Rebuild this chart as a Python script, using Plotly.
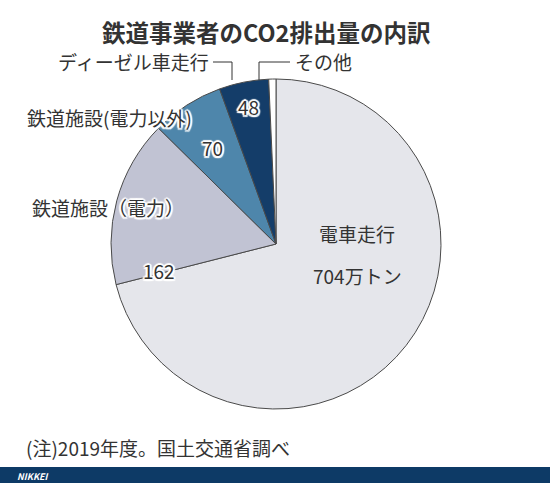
import plotly.graph_objects as go

categories = ["電車走行", "鉄道施設（電力）", "鉄道施設(電力以外)", "ディーゼル車走行", "その他"]
values = [704, 162, 70, 48, 7]
colors = ["#e5e6eb", "#c1c3d3", "#4e86ab", "#143d69", "#ffffff"]

W, H = 550, 483
cx, cy, r = 276, 244, 165

fig = go.Figure(go.Pie(
    labels=categories, values=values, sort=False, direction="clockwise", rotation=0,
    marker=dict(colors=colors, line=dict(color="#4a4a4a", width=1)),
    textinfo="none", hoverinfo="label+value", showlegend=False,
    domain=dict(x=[(cx - r) / W, (cx + r) / W], y=[(H - cy - r) / H, (H - cy + r) / H]),
))

FONT = "Noto Sans CJK JP"
halo = ("-1.5px -1.5px 1px #fff, 1.5px 1.5px 1px #fff, -1.5px 1.5px 1px #fff, 1.5px -1.5px 1px #fff, "
        "0px 2px 1px #fff, 0px -2px 1px #fff, 2px 0px 1px #fff, -2px 0px 1px #fff")

def px(x, y):
    return x / W, 1 - y / H

anns = []
def add(text, x, y, size=19, color="#333333", xanchor="center", shadow=None, bold=False):
    ax, ay = px(x, y)
    f = dict(family=FONT, size=size, color=color)
    if shadow:
        f["shadow"] = shadow
    anns.append(dict(text=("<b>%s</b>" % text) if bold else text, x=ax, y=ay, xref="paper", yref="paper",
                     xanchor=xanchor, yanchor="middle", showarrow=False, font=f))

add("鉄道事業者のCO2排出量の内訳", 266, 32, size=23.5, color="#333333", bold=True)
add(categories[3], 211, 62, xanchor="right")
add(categories[4], 293, 62, xanchor="left")
add(categories[2], 25, 118, xanchor="left", shadow=halo)
add(categories[1], 30, 207, xanchor="left", shadow=halo)
add(str(values[1]), 159, 270, shadow=halo)
add(str(values[2]), 212, 147, shadow=halo)
add(str(values[3]), 249, 106, shadow=halo)
add(categories[0], 357, 233)
add(f"{values[0]}万トン", 357, 275)
add("(注)2019年度。国土交通省調べ", 24, 447, xanchor="left")
add("<i>NIKKEI</i>", 15, 476, size=9, color="#ffffff", xanchor="left", bold=True)
fig.update_layout(annotations=anns)

def line(pts):
    path = "M " + " L ".join(f"{x/W},{1 - y/H}" for x, y in pts)
    return dict(type="path", path=path, xref="paper", yref="paper",
                line=dict(color="#333333", width=1))

fig.update_layout(
    width=W, height=H, margin=dict(l=0, r=0, t=0, b=0),
    paper_bgcolor="#ffffff", plot_bgcolor="#ffffff",
    shapes=[
        line([(213, 62), (232, 62), (232, 80)]),
        line([(259, 80), (259, 62), (290, 62)]),
        dict(type="rect", xref="paper", yref="paper", x0=0, x1=1, y0=0, y1=(H - 467) / H,
             fillcolor="#0d3a66", line=dict(width=0), layer="below"),
    ],
)

fig.write_html("out.html")
